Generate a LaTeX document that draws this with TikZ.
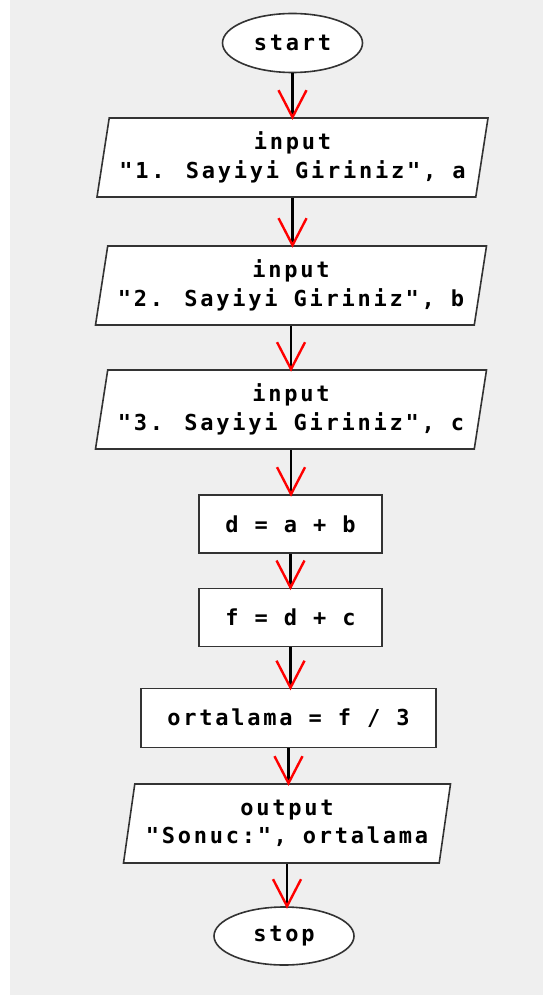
\documentclass[tikz,border=0pt]{standalone}
\usepackage{fontspec}
\newfontfamily\flowfont[LetterSpace=12.5]{DejaVu Sans Mono Bold}
\usetikzlibrary{shapes.geometric}
\definecolor{panel}{HTML}{EFEFEF}
\tikzset{
  box/.style={draw=black!80, line width=1.6pt, fill=white, inner sep=0pt,
    font=\flowfont\fontsize{22}{28.5}\selectfont, align=center},
  term/.style={box, ellipse, minimum width=140pt, minimum height=59pt},
  proc/.style={box, rectangle, minimum height=58pt},
  io/.style={box, trapezium, trapezium left angle=76.5, trapezium right angle=103.5,
    trapezium stretches body, minimum height=79pt},
  flowline/.style={line width=2.6pt, black},
  vee/.style={red, line width=2.4pt},
}
\newcommand\flowarrow[2]{%
  \coordinate (#2tip) at (#1.south |- #2.north);
  \draw[flowline] (#1.south) -- (#2tip);
  \draw[vee] ([shift={(-14pt,27pt)}]#2tip) -- (#2tip) -- ++(14pt,27pt);
}
\begin{document}
\begin{tikzpicture}[x=1pt,y=-1pt]
\useasboundingbox (0,0) rectangle (543,995);
\fill[white] (0,0) rectangle (543,995);
\fill[panel] (10,0) rectangle (543,995);

\node[term] (start) at (292.5,43) {start};
\node[io, minimum width=391pt] (in1) at (292.5,157.5) {input\\"1. Sayiyi Giriniz", a};
\node[io, minimum width=391pt] (in2) at (291,285.5) {input\\"2. Sayiyi Giriniz", b};
\node[io, minimum width=391pt] (in3) at (291,409.5) {input\\"3. Sayiyi Giriniz", c};
\node[proc, minimum width=183pt] (d) at (290.5,524) {d = a + b};
\node[proc, minimum width=183pt] (f) at (290.5,617.3) {f = d + c};
\node[proc, minimum width=295pt, minimum height=59pt] (ort) at (288.5,718) {ortalama = f / 3};
\node[io, minimum width=327pt] (out) at (287,823.5) {output\\"Sonuc:", ortalama};
\node[term, minimum height=58pt] (stop) at (284,936) {stop};

\flowarrow{start}{in1}
\flowarrow{in1}{in2}
\flowarrow{in2}{in3}
\flowarrow{in3}{d}
\flowarrow{d}{f}
\flowarrow{f}{ort}
\flowarrow{ort}{out}
\flowarrow{out}{stop}
\end{tikzpicture}
\end{document}
